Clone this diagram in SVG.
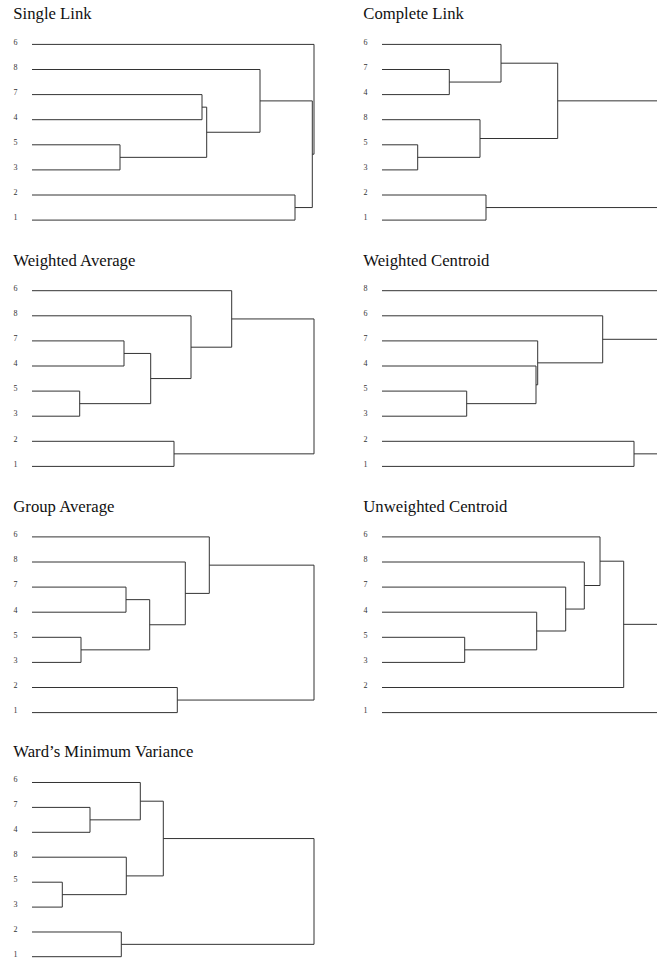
<svg xmlns="http://www.w3.org/2000/svg" width="657" height="958" viewBox="0 0 657 958">
<style>
.bg{fill:#fff}
.title{font-family:"Liberation Serif","Times New Roman",serif;font-size:16.7px;fill:#111}
.lab{font-family:"Liberation Serif","Times New Roman",serif;font-size:8px;fill:#333}
.ln{fill:none;stroke:#333;stroke-width:1}
</style>
<defs>
<g id="labels-a">
<text class="lab" x="13.5" y="44.7">6</text>
<text class="lab" x="13.5" y="69.8">8</text>
<text class="lab" x="13.5" y="94.9">7</text>
<text class="lab" x="13.5" y="120">4</text>
<text class="lab" x="13.5" y="145.1">5</text>
<text class="lab" x="13.5" y="170.2">3</text>
<text class="lab" x="13.5" y="195.3">2</text>
<text class="lab" x="13.5" y="220.4">1</text>
</g>
</defs>
<rect class="bg" x="0" y="0" width="657" height="958"/>

<g id="single-link">
<text class="title" x="13.3" y="19.3">Single Link</text>
<use href="#labels-a"/>
<g id="single-link-connectors">
<path class="ln" d="M32 94.6H202V119.7H32M32 144.8H120V169.9H32M202 107.15H206.7V157.35H120M32 69.5H260V132.25H206.7M32 195H295V220.1H32M260 100.9H312.3V207.55H295M32 44.4H314V154.2H312.3"/>
</g>
</g>

<g id="complete-link" transform="translate(350,0)">
<text class="title" x="13.3" y="19.3">Complete Link</text>
<text class="lab" x="13.5" y="44.7">6</text>
<text class="lab" x="13.5" y="69.8">7</text>
<text class="lab" x="13.5" y="94.9">4</text>
<text class="lab" x="13.5" y="120">8</text>
<text class="lab" x="13.5" y="145.1">5</text>
<text class="lab" x="13.5" y="170.2">3</text>
<text class="lab" x="13.5" y="195.3">2</text>
<text class="lab" x="13.5" y="220.4">1</text>
<g id="complete-link-connectors">
<path class="ln" d="M32 69.5H99.3V94.6H32M32 44.4H151V82.05H99.3M32 144.8H67.7V169.9H32M32 119.7H130V157.35H67.7M151 63.2H207.7V138.5H130M207.7 100.85H312M32 195H136V220.1H32M136 207.55H312"/>
</g>
</g>

<g id="weighted-average" transform="translate(0,246.3)">
<text class="title" x="13.3" y="19.3">Weighted Average</text>
<use href="#labels-a"/>
<g id="weighted-average-connectors">
<path class="ln" d="M32 94.6H124V119.7H32M32 144.8H79.7V169.9H32M124 107.15H150.7V157.35H79.7M32 69.5H191V132.25H150.7M32 44.4H231.7V100.9H191M32 195H174V220.1H32M231.7 72.65H314V207.55H174"/>
</g>
</g>

<g id="weighted-centroid" transform="translate(350,246.3)">
<text class="title" x="13.3" y="19.3">Weighted Centroid</text>
<text class="lab" x="13.5" y="44.7">8</text>
<text class="lab" x="13.5" y="69.8">6</text>
<text class="lab" x="13.5" y="94.9">7</text>
<text class="lab" x="13.5" y="120">4</text>
<text class="lab" x="13.5" y="145.1">5</text>
<text class="lab" x="13.5" y="170.2">3</text>
<text class="lab" x="13.5" y="195.3">2</text>
<text class="lab" x="13.5" y="220.4">1</text>
<g id="weighted-centroid-connectors">
<path class="ln" d="M32 44.4H312M32 144.8H116.7V169.9H32M32 119.7H186V157.35H116.7M32 94.6H187.7V138.5H186M32 69.5H252.7V116.55H187.7M252.7 93H312M32 195H284V220.1H32M284 207.55H312"/>
</g>
</g>

<g id="group-average" transform="translate(0,492.5)">
<text class="title" x="13.3" y="19.3">Group Average</text>
<use href="#labels-a"/>
<g id="group-average-connectors">
<path class="ln" d="M32 94.6H126V119.7H32M32 144.8H81V169.9H32M126 107.15H149.7V157.35H81M32 69.5H185.3V132.25H149.7M32 44.4H209.3V100.9H185.3M32 195H177.3V220.1H32M209.3 72.65H314V207.55H177.3"/>
</g>
</g>

<g id="unweighted-centroid" transform="translate(350,492.5)">
<text class="title" x="13.3" y="19.3">Unweighted Centroid</text>
<use href="#labels-a"/>
<g id="unweighted-centroid-connectors">
<path class="ln" d="M32 144.8H114.7V169.9H32M32 119.7H186.7V157.35H114.7M32 94.6H215.7V138.5H186.7M32 69.5H234.3V116.55H215.7M32 44.4H250V93H234.3M250 68.7H273.7V195H32M273.7 131.85H312M32 220.1H312"/>
</g>
</g>

<g id="wards-minimum-variance" transform="translate(0,736.6)">
<text class="title" x="13.3" y="20.5">Ward’s Minimum Variance</text>
<text class="lab" x="13.5" y="45.9">6</text>
<text class="lab" x="13.5" y="70.7">7</text>
<text class="lab" x="13.5" y="95.6">4</text>
<text class="lab" x="13.5" y="120.5">8</text>
<text class="lab" x="13.5" y="145.4">5</text>
<text class="lab" x="13.5" y="170.3">3</text>
<text class="lab" x="13.5" y="195.2">2</text>
<text class="lab" x="13.5" y="220">1</text>
<g id="wards-connectors">
<path class="ln" d="M32 70.8H90V95.7H32M32 45.9H140.3V83.25H90M32 145.6H62.3V170.5H32M32 120.6H126.3V158.05H62.3M140.3 64.6H163.3V139.3H126.3M32 195.4H121.3V220.1H32M163.3 101.95H314V207.75H121.3"/>
</g>
</g>
</svg>
